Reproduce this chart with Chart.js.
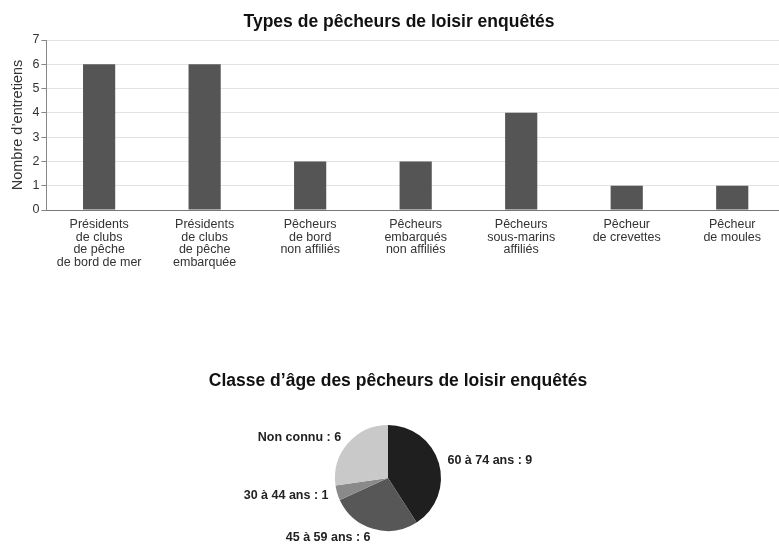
<!DOCTYPE html>
<html>
<head>
<meta charset="utf-8">
<script src="https://cdn.jsdelivr.net/npm/chart.js@4.4.1/dist/chart.umd.min.js"></script>
<style>
  html, body { margin: 0; padding: 0; background: #fff; overflow: hidden; }
  #barChart { position: absolute; left: 0; top: 0; }
  #pieChart { position: absolute; left: 0; top: 360px; }
</style>
</head>
<body>
<canvas id="barChart" width="785" height="277"></canvas>
<canvas id="pieChart" width="779" height="185"></canvas>
<script>
// Données
const typeLabels = [
  ["Présidents", "de clubs", "de pêche", "de bord de mer"],
  ["Présidents", "de clubs", "de pêche", "embarquée"],
  ["Pêcheurs", "de bord", "non affiliés"],
  ["Pêcheurs", "embarqués", "non affiliés"],
  ["Pêcheurs", "sous-marins", "affiliés"],
  ["Pêcheur", "de crevettes"],
  ["Pêcheur", "de moules"]
];
const typeValues = [6, 6, 2, 2, 4, 1, 1];

const ageLabels = ["60 à 74 ans", "45 à 59 ans", "30 à 44 ans", "Non connu"];
const ageValues = [9, 6, 1, 6];
const ageColors = ["#1f1f1f", "#575757", "#8a8a8a", "#c9c9c9"];

const FONT = "'Liberation Sans', Arial, Helvetica, sans-serif";
Chart.defaults.font.family = FONT;
Chart.defaults.color = "#333";

// Titre centré sur la page (pas sur la zone du graphique)
const pageTitle = {
  id: 'pageTitle',
  afterDraw(chart, args, opts) {
    const ctx = chart.ctx;
    ctx.save();
    ctx.font = "bold 17.5px " + FONT;
    ctx.fillStyle = "#111";
    ctx.textAlign = "center";
    ctx.textBaseline = "middle";
    ctx.fillText(opts.text, opts.x, opts.y);
    ctx.restore();
  }
};

// Graphique types de pêcheurs
new Chart(document.getElementById("barChart"), {
  type: 'bar',
  data: {
    labels: typeLabels,
    datasets: [{
      data: typeValues,
      backgroundColor: "#555555",
      barPercentage: 0.305,
      categoryPercentage: 1
    }]
  },
  options: {
    responsive: false,
    animation: false,
    layout: { padding: { left: 5, right: 0, top: 40, bottom: 0 } },
    plugins: {
      legend: { display: false },
      tooltip: { enabled: false },
      pageTitle: { text: "Types de pêcheurs de loisir enquêtés", x: 399, y: 22 }
    },
    scales: {
      x: {
        grid: { display: false, drawTicks: false },
        border: { color: "#777" },
        ticks: {
          autoSkip: false,
          maxRotation: 0,
          padding: 8,
          color: "#333",
          font: { size: 12.5, lineHeight: 1.02 }
        }
      },
      y: {
        min: 0,
        max: 7,
        ticks: { stepSize: 1, padding: 2, color: "#333", font: { size: 12.5 } },
        grid: { color: "#e2e2e2", tickLength: 5, tickColor: "#888" },
        border: { color: "#888" },
        title: {
          display: true,
          text: "Nombre d’entretiens",
          color: "#333",
          font: { size: 14.5 },
          padding: { top: 4, bottom: 4 }
        }
      }
    }
  },
  plugins: [pageTitle]
});

// Étiquettes du camembert
const pieLabels = {
  id: 'pieLabels',
  afterDatasetsDraw(chart) {
    const ctx = chart.ctx;
    const meta = chart.getDatasetMeta(0);
    ctx.save();
    ctx.font = "bold 12.5px " + FONT;
    ctx.fillStyle = "#222";
    ctx.textBaseline = "middle";
    meta.data.forEach((arc, i) => {
      const p = arc.getProps(['x', 'y', 'startAngle', 'endAngle', 'outerRadius'], true);
      const mid = (p.startAngle + p.endAngle) / 2;
      const r = p.outerRadius + 9;
      const x = p.x + Math.cos(mid) * r;
      const y = p.y + Math.sin(mid) * r;
      ctx.textAlign = Math.cos(mid) >= 0 ? "left" : "right";
      ctx.fillText(ageLabels[i] + " : " + ageValues[i], x, y);
    });
    ctx.restore();
  }
};

// Graphique classe d'âge
new Chart(document.getElementById("pieChart"), {
  type: 'pie',
  data: {
    labels: ageLabels,
    datasets: [{
      data: ageValues,
      backgroundColor: ageColors,
      borderWidth: 0,
      radius: 53
    }]
  },
  options: {
    responsive: false,
    animation: false,
    layout: { padding: { left: 0, right: 3, top: 60, bottom: 9 } },
    plugins: {
      legend: { display: false },
      tooltip: { enabled: false },
      pageTitle: { text: "Classe d’âge des pêcheurs de loisir enquêtés", x: 398, y: 21 }
    }
  },
  plugins: [pieLabels, pageTitle]
});
</script>
</body>
</html>
